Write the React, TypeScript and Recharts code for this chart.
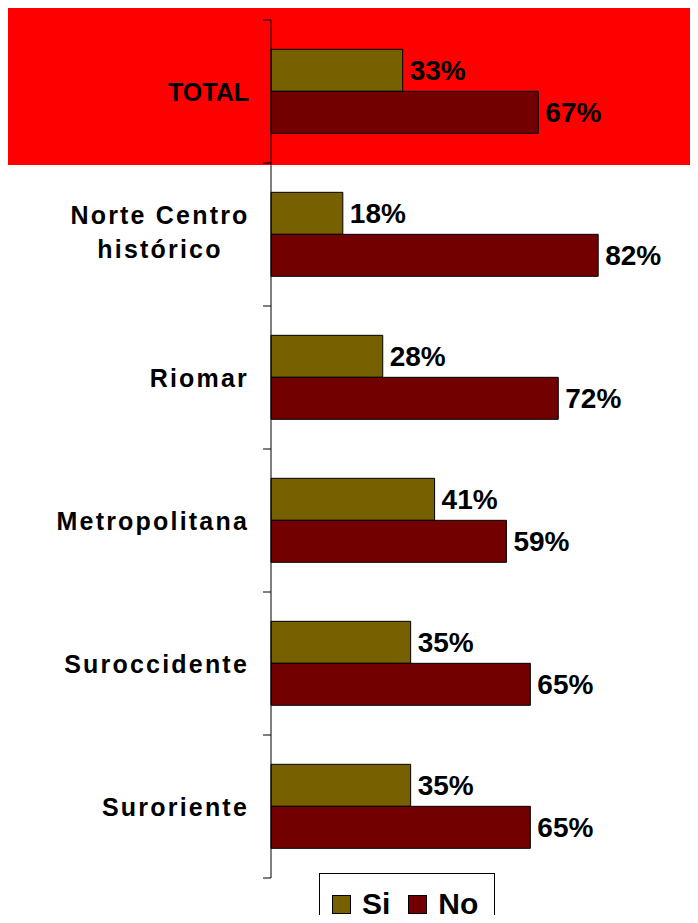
import { BarChart, Bar, XAxis, YAxis, LabelList, Legend } from "recharts";

const categories = ["TOTAL", "Norte Centro\nhistórico", "Riomar", "Metropolitana", "Suroccidente", "Suroriente"];
const siValues = [33, 18, 28, 41, 35, 35];
const noValues = [67, 82, 72, 59, 65, 65];
const seriesNames = ["Si", "No"];
const seriesColors = ["#766000", "#730000"];

const data = categories.map((c, i) => ({ name: c, si: siValues[i], no: noValues[i] }));

const W = 690;
const H = 915;
const MARGIN = { top: 12, right: 28, bottom: 45, left: 0 };
const PLOT_H = H - MARGIN.top - MARGIN.bottom;
const BAND = PLOT_H / categories.length;
const FONT = "Arial, 'Liberation Sans', sans-serif";

function CategoryTick(props: any) {
  const { x, y, payload, index } = props;
  const axisX = x + 15;
  const tx = x - 7;
  const lines: string[] = String(payload.value).split("\n");
  const last = index === categories.length - 1;
  return (
    <g>
      <line x1={axisX - 8} x2={axisX} y1={y - BAND / 2} y2={y - BAND / 2} stroke="#000" />
      {last && <line x1={axisX - 8} x2={axisX} y1={y + BAND / 2} y2={y + BAND / 2} stroke="#000" />}
      {lines.length === 1 ? (
        <text x={tx} y={y + 9} textAnchor="end" fontSize={25} fontWeight="bold" fill="#000" fontFamily={FONT}
          letterSpacing={lines[0] === "TOTAL" ? 0 : 2.2}>
          {lines[0]}
        </text>
      ) : (
        lines.map((l, i) => (
          <text key={i} x={tx - 89} y={y - 10.5 + i * 34} textAnchor="middle" fontSize={25} fontWeight="bold"
            fill="#000" fontFamily={FONT} letterSpacing={2.2}>
            {l}
          </text>
        ))
      )}
    </g>
  );
}

function LegendBox() {
  return (
    <div
      style={{
        boxSizing: "border-box",
        width: 176,
        height: 70,
        border: "1px solid #000",
        background: "#fff",
        display: "flex",
        alignItems: "flex-start",
        paddingLeft: 12,
        paddingTop: 15,
        fontFamily: FONT,
        fontWeight: "bold",
        fontSize: 30,
        lineHeight: "30px",
      }}
    >
      {seriesNames.map((n, i) => (
        <div key={n} style={{ display: "flex", alignItems: "center", marginRight: i === 0 ? 18 : 0 }}>
          <span
            style={{
              display: "inline-block",
              boxSizing: "border-box",
              width: 19,
              height: 19,
              background: seriesColors[i],
              border: "1px solid #000",
              marginRight: 11,
            }}
          />
          <span>{n}</span>
        </div>
      ))}
    </div>
  );
}

export default function App() {
  return (
    <div style={{ position: "relative", width: W, height: H, overflow: "hidden", marginBottom: -8 }}>
      <div style={{ position: "absolute", left: 0, top: 0, width: W, height: 157, background: "#ff0000" }} />
      <BarChart
        width={W}
        height={H}
        data={data}
        layout="vertical"
        margin={MARGIN}
        barCategoryGap="20.5%"
        barGap={0}
        style={{ fontFamily: FONT }}
      >
        <XAxis type="number" domain={[0, 100]} hide />
        <YAxis
          type="category"
          dataKey="name"
          width={263}
          tickLine={false}
          tickSize={8}
          tickMargin={7}
          axisLine={{ stroke: "#000" }}
          tick={<CategoryTick />}
          interval={0}
        />
        <Legend
          layout="horizontal"
          verticalAlign="middle"
          align="center"
          wrapperStyle={{ top: 865, left: 311, width: 176 }}
          content={() => <LegendBox />}
        />
        <Bar dataKey="si" name="Si" fill={seriesColors[0]} stroke="#000" strokeWidth={1} isAnimationActive={false}>
          <LabelList dataKey="si" position="right" offset={7} formatter={(v: any) => `${v}%`}
            style={{ fontSize: 28, fontWeight: "bold", fill: "#000", fontFamily: FONT }} />
        </Bar>
        <Bar dataKey="no" name="No" fill={seriesColors[1]} stroke="#000" strokeWidth={1} isAnimationActive={false}>
          <LabelList dataKey="no" position="right" offset={7} formatter={(v: any) => `${v}%`}
            style={{ fontSize: 28, fontWeight: "bold", fill: "#000", fontFamily: FONT }} />
        </Bar>
      </BarChart>
    </div>
  );
}
